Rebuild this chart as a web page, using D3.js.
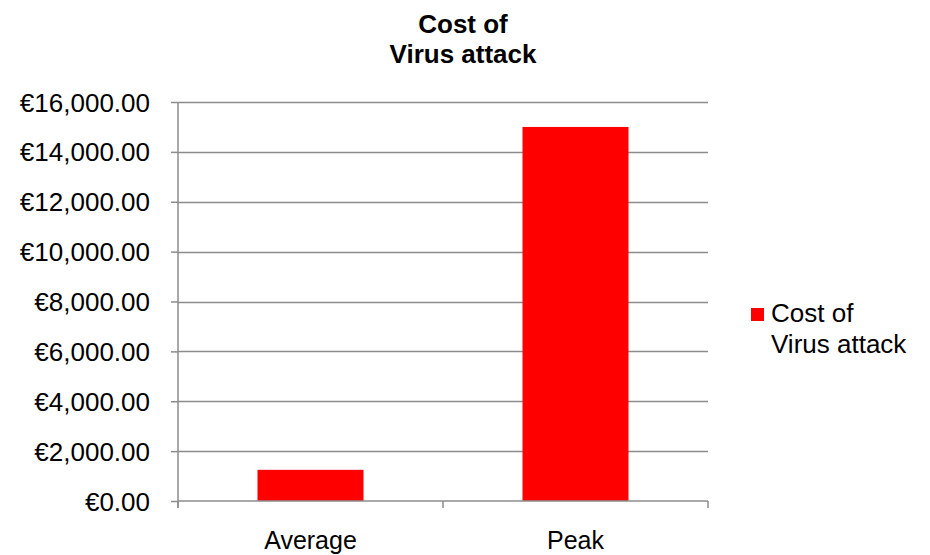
<!DOCTYPE html>
<html>
<head>
<meta charset="utf-8">
<script src="https://cdn.jsdelivr.net/npm/d3@7"></script>
<style>
  body { margin: 0; background: #fff; }
  text { font-family: "Liberation Sans", Arial, sans-serif; fill: #000; }
</style>
</head>
<body>
<div id="chart"></div>
<script>
const categories = ["Average", "Peak"];
const costValues = [1250, 15000];
const yTicks = [0, 2000, 4000, 6000, 8000, 10000, 12000, 14000, 16000];
const titleLines = ["Cost of", "Virus attack"];
const legendLines = ["Cost of", "Virus attack"];

const width = 930, height = 555;
const margin = { top: 102, right: 222, bottom: 54, left: 178 };
const innerW = width - margin.left - margin.right;
const innerH = height - margin.top - margin.bottom;

const svg = d3.select("#chart").append("svg")
    .attr("width", width)
    .attr("height", height);

// Title
svg.append("text")
    .attr("x", 463)
    .attr("y", 33)
    .attr("text-anchor", "middle")
    .style("font-size", "26px")
    .style("font-weight", "bold")
    .selectAll("tspan")
    .data(titleLines)
    .join("tspan")
    .attr("x", 463)
    .attr("dy", (d, i) => i === 0 ? 0 : 30)
    .text(d => d);

const g = svg.append("g").attr("transform", `translate(${margin.left},${margin.top})`);

const x = d3.scaleBand().domain(categories).range([0, innerW]).paddingInner(0.6).paddingOuter(0.3);
const y = d3.scaleLinear().domain([0, 16000]).range([innerH, 0]);

// Gridlines
g.selectAll("line.grid")
    .data(yTicks.filter(d => d > 0))
    .join("line")
    .attr("class", "grid")
    .attr("x1", 0).attr("x2", innerW)
    .attr("y1", d => Math.round(y(d)) + 0.5).attr("y2", d => Math.round(y(d)) + 0.5)
    .attr("stroke", "#8c8c8c")
    .attr("stroke-width", 1.5);

// Bars
g.selectAll("rect.bar")
    .data(costValues)
    .join("rect")
    .attr("class", "bar")
    .attr("x", (d, i) => x(categories[i]))
    .attr("y", d => y(d))
    .attr("width", x.bandwidth())
    .attr("height", d => innerH - y(d))
    .attr("fill", "#ff0000");

// Y axis
const yAxis = g.append("g")
    .call(d3.axisLeft(y).tickValues(yTicks).tickSize(7).tickPadding(21)
        .tickFormat(d => "€" + d3.format(",.2f")(d)));
yAxis.select(".domain").attr("stroke", "#8c8c8c").attr("stroke-width", 1.5).attr("d", `M0,0V${innerH + 7}`);
yAxis.selectAll(".tick line").attr("stroke", "#8c8c8c").attr("stroke-width", 1.5);
yAxis.selectAll(".tick text").style("font-size", "26px").attr("dy", "0.35em");

// X axis
const xEdge = d3.scaleLinear().domain([0, categories.length]).range([0, innerW]);
const xAxis = g.append("g").attr("transform", `translate(0,${innerH})`);
xAxis.append("line")
    .attr("x1", 0).attr("x2", innerW)
    .attr("y1", 0).attr("y2", 0)
    .attr("stroke", "#8c8c8c").attr("stroke-width", 1.5);
xAxis.selectAll("line.tick")
    .data(d3.range(categories.length + 1))
    .join("line")
    .attr("class", "tick")
    .attr("x1", d => xEdge(d)).attr("x2", d => xEdge(d))
    .attr("y1", 0).attr("y2", 7)
    .attr("stroke", "#8c8c8c").attr("stroke-width", 1.5);
xAxis.selectAll("text")
    .data(categories)
    .join("text")
    .attr("x", d => x(d) + x.bandwidth() / 2)
    .attr("y", 48)
    .attr("text-anchor", "middle")
    .style("font-size", "25px")
    .text(d => d);

// Legend
const legend = svg.append("g").attr("transform", "translate(751,308)");
legend.append("rect")
    .attr("width", 13).attr("height", 13)
    .attr("fill", "#ff0000");
legend.append("text")
    .attr("x", 20)
    .attr("y", 14)
    .style("font-size", "26px")
    .selectAll("tspan")
    .data(legendLines)
    .join("tspan")
    .attr("x", 20)
    .attr("dy", (d, i) => i === 0 ? 0 : 31)
    .text(d => d);
</script>
</body>
</html>
